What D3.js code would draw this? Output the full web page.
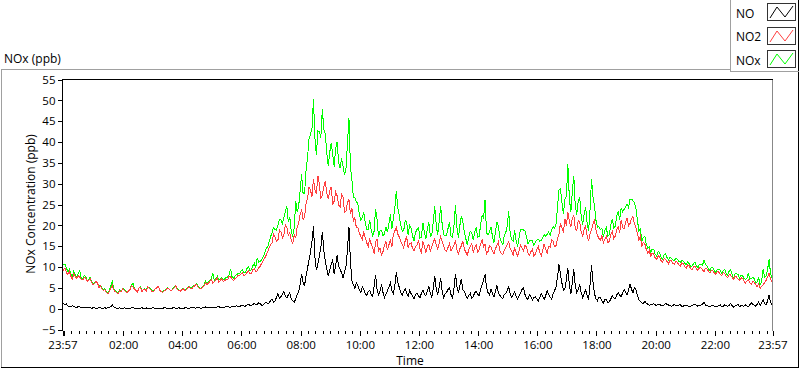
<!DOCTYPE html>
<html><head><meta charset="utf-8">
<script src="https://cdn.jsdelivr.net/npm/d3@7"></script>
<style>
html,body{margin:0;padding:0;background:#fff;}
svg{display:block;font-family:"Open Sans","Noto Sans",sans-serif;}
</style></head>
<body><svg id="c" width="800" height="369"></svg>
<script>
// Time axis labels (first and last are the window edges)
const timeLabels = ["23:57","02:00","04:00","06:00","08:00","10:00","12:00","14:00","16:00","18:00","20:00","22:00","23:57"];
const yTicks = [-5,0,5,10,15,20,25,30,35,40,45,50,55];
const stepMinutes = 3; // one sample every 3 minutes, starting 23:57
const seriesNames = ["NO","NO2","NOx"];
const seriesColors = ["#000000","#ff4040","#00ff00"];

// one row = one hour (20 samples)
const no = [
1.6,1.2,0.9,1.1,0.7,0.5,0.5,0.7,0.6,0.4,0.3,0.5,0.4,0.3,0.2,0.4,0.3,0.2,0.2,0.3,
0.1,0.2,0.2,0.1,0.1,0.3,0.2,0.1,0.1,0.2,0.1,0.2,0.3,0.5,0.9,0.4,0.2,0.1,0.1,0.2,
0.1,0.0,0.2,0.1,0.0,0.1,0.1,0.2,0.2,0.1,0.1,0.0,0.0,0.1,0.2,0.1,0.1,0.2,0.0,0.1,
0.1,0.2,0.2,0.1,0.1,0.0,0.0,0.1,0.1,0.2,0.2,0.1,0.1,0.0,0.0,0.2,0.2,0.1,0.1,0.2,
0.1,0.1,0.0,0.2,0.2,0.1,0.1,0.2,0.2,0.3,0.1,0.2,0.3,0.2,0.1,0.2,0.2,0.4,0.3,0.2,
0.2,0.3,0.4,0.2,0.3,0.4,0.5,0.3,0.2,0.4,0.4,0.5,0.6,0.4,0.3,0.5,0.5,0.6,0.7,0.5,
0.5,0.7,0.8,0.6,0.6,0.9,1.1,0.8,0.8,1.0,1.3,0.9,1.0,1.4,1.2,0.8,0.9,1.3,1.6,1.2,
1.4,1.9,2.3,1.6,1.8,2.7,3.6,2.5,2.9,3.4,4.2,3.1,2.6,3.3,3.8,2.2,1.9,1.5,2.4,3.5,
4.1,5.8,8.4,6.2,5.6,7.9,9.8,11.6,13.5,16.2,19.8,12.4,9.2,10.8,12.6,14.7,18.5,13.9,11.4,9.6,
7.8,9.2,10.6,11.8,8.3,10.4,12.9,10.2,9.5,8.6,7.4,8.9,10.1,14.3,19.6,11.2,6.8,5.7,4.9,6.3,
5.6,4.5,3.8,5.2,4.7,3.6,3.2,4.1,4.4,3.5,2.9,5.4,8.1,4.6,3.4,4.2,5.8,3.9,2.7,3.5,
4.3,5.1,6.2,4.4,3.6,5.5,8.7,6.4,5.1,3.9,3.2,4.1,4.8,3.7,2.9,4.4,3.6,3.0,2.4,3.3,
3.8,3.1,2.6,3.7,4.5,3.4,3.1,4.2,5.3,3.6,2.8,4.9,7.9,4.8,3.4,5.2,7.4,4.1,2.7,3.5,
3.9,4.6,5.1,3.4,2.6,4.8,8.4,5.3,3.8,5.6,7.2,4.5,4.1,3.2,2.5,3.1,3.7,2.6,2.9,3.8,
4.2,3.5,3.1,4.6,5.8,6.9,8.2,5.1,3.9,3.3,4.7,3.6,2.8,4.1,5.6,3.8,3.2,2.7,2.4,3.4,
3.6,4.4,5.2,3.5,2.7,3.3,4.1,2.9,2.3,3.1,3.8,4.6,5.0,3.4,2.6,2.2,3.4,2.8,2.1,2.6,
2.9,2.3,1.8,2.7,3.6,2.9,2.2,3.1,4.4,3.4,2.8,2.3,3.5,4.3,5.2,7.6,10.6,8.2,6.1,4.4,
4.8,7.1,9.8,5.6,3.5,6.2,9.5,5.4,3.9,4.6,5.8,3.8,2.7,3.6,4.5,3.1,2.3,5.9,10.4,6.3,
3.6,2.4,1.9,2.8,2.6,1.8,1.4,2.1,2.2,1.5,1.6,2.3,3.1,2.6,2.4,3.3,3.8,3.2,2.9,3.7,
4.6,3.9,3.3,4.4,5.9,4.7,3.8,5.1,4.5,3.2,2.2,1.7,1.4,1.2,1.8,1.3,1.1,0.8,0.9,1.0,
1.2,0.9,0.8,1.0,1.1,0.8,0.7,0.9,1.3,1.0,0.9,0.7,0.6,0.8,1.0,0.7,0.7,0.9,0.9,0.6,
0.6,0.8,0.9,0.7,0.5,0.6,0.8,0.9,1.1,0.7,0.6,0.8,0.9,1.1,1.5,0.9,0.7,0.6,0.5,0.7,
0.8,0.6,0.4,0.5,0.7,0.9,0.5,0.6,0.9,0.7,0.6,0.8,1.2,0.7,0.4,0.6,0.8,1.1,0.5,0.7,
0.7,0.6,0.9,0.7,0.5,0.9,1.4,1.0,0.8,0.6,1.1,1.6,0.7,1.3,2.2,1.2,1.0,1.8,3.2,1.5,
0.9];

const no2 = [
8.7,9.4,9.8,8.6,8.2,8.9,7.8,7.1,8.4,7.6,7.3,7.9,7.6,7.0,6.9,7.5,7.4,6.6,6.8,7.2,
6.4,5.8,6.0,6.5,6.2,5.1,5.4,4.8,4.3,4.6,3.9,3.5,4.2,4.9,5.6,4.5,4.1,3.8,3.6,4.3,
4.0,4.8,4.5,4.1,3.8,4.3,4.6,5.5,5.2,4.7,4.4,4.0,4.9,5.1,4.1,4.5,4.7,4.2,5.3,4.9,
4.6,4.0,4.2,4.7,5.0,5.4,4.5,4.1,3.9,4.2,4.4,4.9,4.8,4.5,4.3,4.7,5.1,5.5,4.6,4.3,
4.2,4.6,4.8,4.4,4.5,5.0,5.3,4.8,4.9,5.3,5.6,5.9,5.1,4.8,4.7,5.2,5.4,6.2,5.8,6.1,
6.6,7.0,6.1,6.5,6.9,7.4,6.3,6.8,7.2,6.6,6.7,7.1,7.0,7.8,7.6,7.1,6.8,7.3,7.4,8.0,
7.9,8.3,8.6,8.0,8.1,8.7,9.0,8.4,8.5,9.3,9.6,8.9,9.1,9.8,10.2,10.9,11.5,12.1,12.8,13.6,
14.6,15.4,15.8,17.9,17.2,16.1,16.5,18.9,18.4,17.0,17.6,20.2,19.5,17.5,18.2,16.3,15.6,17.8,16.9,19.7,
20.5,22.6,23.8,21.4,22.1,25.3,26.5,29.1,28.4,26.9,31.2,28.5,27.6,31.9,29.8,26.4,27.3,29.2,30.5,27.8,
26.4,28.3,29.2,25.1,25.8,28.0,27.1,24.9,24.3,27.5,26.8,23.2,23.5,25.4,26.2,22.8,24.1,20.9,21.8,19.4,
19.6,18.2,17.4,16.6,18.5,17.1,15.8,14.9,16.9,15.5,14.6,13.2,15.9,16.8,13.8,14.5,12.9,13.7,15.2,16.1,
14.1,15.3,16.4,14.8,17.8,18.6,19.6,17.9,17.2,16.1,15.4,14.6,16.3,17.2,14.7,15.6,15.8,14.4,13.9,15.0,
15.2,16.4,14.3,13.5,16.1,15.0,13.6,14.9,15.4,13.8,14.8,16.0,16.7,15.3,14.2,15.8,17.3,16.2,15.1,14.0,
13.8,14.7,15.6,13.9,14.5,15.2,16.4,14.1,13.2,14.4,15.1,16.3,14.3,13.6,12.8,14.2,14.9,15.7,13.5,14.6,
15.3,13.6,14.2,15.5,16.6,14.8,15.4,13.2,13.7,15.1,14.9,13.8,13.1,14.3,15.2,16.0,14.0,13.3,12.9,14.1,
14.6,15.5,16.1,14.4,13.8,12.9,14.7,13.5,12.6,14.0,15.3,14.5,13.9,15.2,14.8,13.4,12.8,13.7,14.2,12.6,
13.1,14.2,14.9,13.5,12.7,14.1,15.6,14.3,13.4,15.0,14.8,16.5,16.2,14.9,15.1,16.8,17.8,20.6,19.4,18.3,
21.5,19.8,23.2,20.9,19.6,21.8,22.4,19.3,18.7,21.2,20.9,18.4,17.4,19.1,19.8,17.6,16.3,18.0,18.9,20.4,
21.2,18.8,17.6,16.9,16.4,17.5,15.8,16.7,17.3,15.9,16.1,17.8,18.5,16.8,17.4,18.9,19.6,18.2,21.3,19.5,
19.2,20.6,21.8,19.9,20.4,21.6,22.1,20.3,19.5,18.1,16.5,17.4,14.8,15.9,15.6,14.2,13.4,14.0,12.6,13.3,
13.1,12.2,11.8,12.7,12.4,11.5,11.2,12.0,11.9,11.3,10.8,11.6,11.5,10.9,10.6,11.4,11.1,10.5,10.2,11.0,
10.8,10.1,9.7,10.5,10.3,9.6,9.4,10.0,10.1,9.5,9.2,9.9,9.8,9.3,8.9,9.7,9.5,9.0,8.6,9.2,
9.1,8.6,8.2,8.9,8.8,8.3,7.9,8.6,8.5,7.8,7.4,8.2,8.1,7.5,7.0,7.7,7.6,7.1,6.8,7.4,
7.3,6.7,6.1,6.6,6.9,6.2,5.8,6.5,6.4,5.7,5.3,5.9,4.9,5.4,5.7,6.3,6.8,7.6,8.6,7.0,
6.5];

const nox = [
11.0,10.6,10.7,9.7,8.9,9.4,8.3,7.8,9.0,8.0,7.6,8.4,9.2,7.3,7.1,7.9,7.7,6.8,7.0,7.5,
6.5,6.0,6.2,6.6,6.3,5.4,5.6,4.9,4.4,4.8,4.0,3.7,4.5,5.4,6.5,4.9,4.3,3.9,3.7,4.5,
4.1,4.8,4.7,4.2,3.8,4.4,4.7,5.7,6.1,4.8,4.5,4.0,4.9,5.2,4.3,4.6,4.8,4.4,5.3,5.0,
4.7,4.2,4.4,4.8,5.1,5.4,4.5,4.2,4.0,4.4,4.6,5.0,4.9,4.5,4.3,4.9,5.3,5.6,4.7,4.5,
4.3,4.7,4.8,4.6,4.7,5.1,5.4,5.0,5.1,5.6,5.7,6.1,5.4,5.0,4.8,5.4,5.6,6.6,6.1,6.3,
6.8,7.3,8.4,6.7,7.2,7.8,6.8,7.1,7.4,7.0,7.1,7.6,7.6,8.2,9.6,7.6,7.3,7.9,8.1,8.5,
8.4,9.0,9.4,8.6,8.7,9.6,10.1,9.2,9.3,10.3,10.9,9.8,12.2,11.2,11.4,11.7,12.4,13.4,14.4,14.8,
16.0,17.3,18.1,19.5,19.0,18.8,20.1,21.4,21.3,20.4,21.8,23.3,24.6,20.8,22.0,18.5,17.5,19.3,25.8,23.2,
24.6,28.4,32.2,27.6,27.7,33.2,36.3,40.7,41.9,43.1,50.2,40.9,36.8,42.7,42.4,41.1,47.8,43.1,41.9,37.4,
34.2,37.5,39.8,36.9,34.1,38.4,40.0,35.1,33.8,36.1,34.2,32.1,33.6,39.7,45.8,34.0,30.9,26.6,26.7,25.7,
25.2,22.7,21.2,21.8,23.2,20.7,19.0,19.0,21.3,19.0,17.5,18.6,24.0,21.4,17.2,18.7,18.7,17.6,17.9,19.6,
18.4,20.4,22.6,19.2,21.4,24.1,28.3,24.3,22.3,20.0,18.6,18.7,21.1,20.9,17.6,20.0,19.4,17.4,16.3,18.3,
19.0,19.5,16.9,17.2,20.6,18.4,16.7,19.1,20.7,17.4,17.6,20.9,24.6,20.1,17.6,21.0,24.7,20.3,17.8,17.5,
17.7,19.3,20.7,17.3,17.1,20.0,24.8,19.4,17.0,20.0,22.3,20.8,18.4,16.8,15.3,17.3,18.6,18.3,16.4,18.4,
19.5,17.1,17.3,20.1,22.4,21.7,26.1,18.3,17.6,18.4,19.6,17.4,15.9,18.4,20.8,19.8,17.2,16.0,15.3,17.5,
18.2,19.9,23.4,17.9,16.5,16.2,18.8,16.4,14.9,17.1,19.1,19.1,18.9,18.6,17.4,15.6,16.2,16.5,16.3,15.2,
16.0,16.5,16.7,16.2,16.3,17.0,17.8,17.4,17.8,18.4,17.6,18.8,19.7,19.2,20.3,24.4,28.4,28.8,25.5,22.7,
26.3,26.9,34.6,26.5,23.1,28.0,31.9,24.7,22.6,25.8,26.7,22.2,20.1,22.7,24.3,20.7,18.6,23.9,31.2,26.7,
24.8,21.2,19.5,19.7,19.0,19.3,17.2,18.8,19.5,17.4,17.7,20.1,21.6,19.4,19.8,22.2,23.4,21.4,24.2,23.2,
23.8,24.5,25.1,24.3,26.3,26.3,25.9,25.4,24.0,21.3,18.7,19.1,16.2,17.1,17.4,15.5,14.5,14.8,13.5,14.3,
14.3,13.1,12.6,13.7,13.5,12.3,11.9,12.9,13.2,12.3,11.7,12.3,12.1,11.7,11.6,12.1,11.8,11.4,11.1,11.6,
11.4,10.9,10.6,11.2,10.8,10.2,10.2,10.9,11.2,10.2,9.8,10.7,10.7,10.4,11.6,10.6,10.2,9.6,9.1,9.9,
9.9,9.2,8.6,9.4,9.5,9.2,8.4,9.2,9.4,8.5,8.0,9.0,9.3,8.2,7.4,8.3,8.4,8.2,7.3,8.1,
8.0,7.3,7.0,7.3,8.6,7.1,7.2,7.5,7.2,6.3,6.4,7.5,5.6,6.7,9.4,7.5,7.8,9.4,11.8,8.5,
7.4];

const svg = d3.select("#c");
const L = 62, R = 772, T = 79.5, B = 329.5;
const startMin = 23*60+57;
const toOffset = (lab, i) => {
  if (i === timeLabels.length-1) return 1440;
  const [h,m] = lab.split(":").map(Number);
  return ((h*60+m) - startMin + 1440) % 1440;
};
const x = d3.scaleLinear().domain([0,1440]).range([L,R]);
const y = d3.scaleLinear().domain([-5,55]).range([B,T]);

// outer frame
svg.append("rect").attr("x",0).attr("y",0).attr("width",800).attr("height",369).attr("fill","#fff");
svg.append("path").attr("d","M1.5,367 V69.5 H731").attr("fill","none").attr("stroke","#a0a0a0").attr("shape-rendering","crispEdges");
svg.append("path").attr("d","M1,367.5 H798.5 V69").attr("fill","none").attr("stroke","#000").attr("shape-rendering","crispEdges");

// title
svg.append("text").attr("x",4).attr("y",63).attr("font-size",12).attr("fill","#000").text("NOx (ppb)");

// plot border
svg.append("path").attr("d",`M${R+0.5},${T} V${B+1.5}`).attr("stroke","#888").attr("fill","none").attr("shape-rendering","crispEdges");
svg.append("path").attr("d",`M${L+0.5},${B+1.5} V${T} H${R+0.5}`).attr("stroke","#000").attr("fill","none").attr("shape-rendering","crispEdges");

// clip
svg.append("clipPath").attr("id","pc").append("rect").attr("x",L+1).attr("y",T).attr("width",R-L-1).attr("height",B-T+1);

const line = d3.line().x((d,i)=>x(i*stepMinutes)).y(d=>y(d));
const g = svg.append("g").attr("clip-path","url(#pc)");
[[nox,2],[no2,1],[no,0]].forEach(([arr,k])=>{
  g.append("path").datum(arr).attr("d",line).attr("fill","none")
   .attr("stroke",seriesColors[k]).attr("stroke-width",1).attr("shape-rendering","crispEdges");
});

// y axis
const ya = d3.axisLeft(y).tickValues(yTicks).tickSize(5).tickPadding(2).tickFormat(d3.format("d"));
const yg = svg.append("g").attr("transform",`translate(${L+0.5},0)`).call(ya);
yg.select(".domain").remove();
yg.selectAll("line").attr("stroke","#000").attr("shape-rendering","crispEdges");
yg.selectAll("text").attr("font-size",11.5).attr("font-family","Open Sans").attr("fill","#000");

// x axis minor ticks (every 15 min of clock time)
const minor = d3.range(18, 1440, 15);
const xm = d3.axisBottom(x).tickValues(minor).tickSize(3).tickFormat("");
const xmg = svg.append("g").attr("transform",`translate(0.5,${B+1})`).call(xm);
xmg.select(".domain").remove();
xmg.selectAll("line").attr("stroke","#000").attr("shape-rendering","crispEdges");

// x axis major ticks
const majorVals = timeLabels.map(toOffset);
const xa = d3.axisBottom(x).tickValues(majorVals).tickSize(5).tickPadding(5)
  .tickFormat((d,i)=>timeLabels[i]);
const xg = svg.append("g").attr("transform",`translate(0.5,${B+1})`).call(xa);
xg.select(".domain").remove();
xg.selectAll("line").attr("stroke","#000").attr("shape-rendering","crispEdges");
xg.selectAll("line").filter((d,i)=>i===0).attr("stroke-width",2).attr("transform","translate(0.5,0)");
xg.selectAll("text").attr("font-size",11.5).attr("font-family","Open Sans").attr("fill","#000");

// axis titles
svg.append("text").attr("x",410).attr("y",365).attr("text-anchor","middle").attr("font-size",12).text("Time");
svg.append("text").attr("transform","translate(35,204) rotate(-90)").attr("text-anchor","middle").attr("font-size",12).text("NOx Concentration (ppb)");

// legend
const lg = svg.append("g");
lg.append("rect").attr("x",730.5).attr("y",-1).attr("width",68).attr("height",72).attr("fill","#fff").attr("stroke","none");
lg.append("path").attr("d","M730.5,0 V71.5 H799").attr("stroke","#a0a0a0").attr("fill","none").attr("shape-rendering","crispEdges");
lg.append("path").attr("d","M798.5,0 V71").attr("stroke","#000").attr("fill","none").attr("shape-rendering","crispEdges");
seriesNames.forEach((n,k)=>{
  const y0 = 3 + k*23.5;
  lg.append("text").attr("x",736).attr("y",y0+14.5).attr("font-size",12).text(n);
  const bx = 767, bw = 28, bh = 17;
  lg.append("rect").attr("x",bx+0.5).attr("y",Math.round(y0)+0.5).attr("width",bw).attr("height",bh)
    .attr("fill","#fff").attr("stroke","#333").attr("shape-rendering","crispEdges");
  const yy = Math.round(y0);
  lg.append("path").attr("d",`M${bx+3},${yy+15} L${bx+10},${yy+4} L${bx+18},${yy+14} L${bx+26},${yy+3}`)
    .attr("fill","none").attr("stroke",seriesColors[k]).attr("stroke-width",1);
});
</script></body></html>
